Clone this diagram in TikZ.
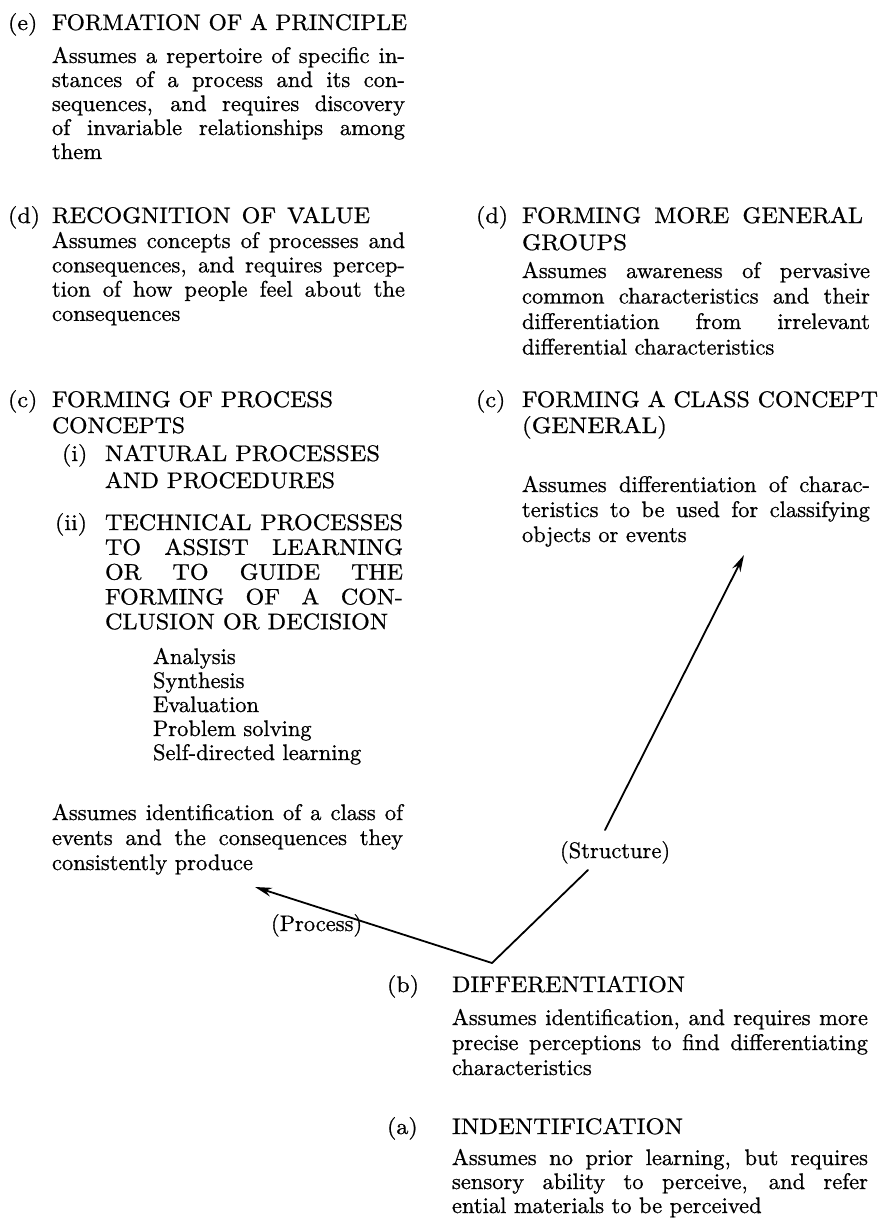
\documentclass[tikz,border=0pt]{standalone}
\usepackage{graphicx}
\usetikzlibrary{arrows.meta}
% body type: Latin Modern 10pt design cut, set large and slightly heavier; capitals a little wider
\font\bodyfont="[lmroman10-regular]:embolden=0.8" at 22.5pt
\font\capfont="[lmroman10-regular]:extend=1.07;embolden=0.8" at 22.5pt
\newcommand\jl[2]{\makebox[#1][s]{#2}}% one justified line of width #1
\newcommand\fw[2]{\resizebox{#1}{\height}{#2}}% one line set to width #1
\newcommand\blocklines[3]{\parbox[t]{#1}{\bodyfont\baselineskip=#2\relax #3}}
\newcommand\capblock[3]{\parbox[t]{#1}{\capfont\baselineskip=#2\relax #3}}
\tikzset{
  txt/.style={anchor=base west, inner sep=0pt, outer sep=0pt, font=\bodyfont},
  captxt/.style={txt, font=\capfont},
  link/.style={line width=1.8pt, line cap=round},
  arrowlink/.style={link, -{Stealth[length=17pt,width=9pt]}},
}
\begin{document}
\begin{tikzpicture}[x=1pt,y=-1pt]
\useasboundingbox (0,0) rectangle (878,1221);

% ---- (e) formation of a principle
\node[captxt] (eL) at (8,30) {(e)};
\node[captxt] (eT) at (52,30) {\fw{355pt}{FORMATION OF A PRINCIPLE}};
\node[txt] (eB) at (52,63) {\blocklines{353pt}{24pt}{%
\jl{\linewidth}{Assumes a repertoire of specific in-}\\
\jl{\linewidth}{stances of a process and its con-}\\
\jl{\linewidth}{sequences, and requires discovery}\\
\jl{\linewidth}{of invariable relationships among}\\
them}};

% ---- (d) recognition of value
\node[captxt] (dL) at (8,223) {(d)};
\node[captxt] (dT) at (52,223) {\jl{318pt}{RECOGNITION OF VALUE}};
\node[txt] (dB) at (52,248) {\blocklines{353pt}{24.3pt}{%
\jl{\linewidth}{Assumes concepts of processes and}\\
\jl{\linewidth}{consequences, and requires percep-}\\
\jl{\linewidth}{tion of how people feel about the}\\
consequences}};

% ---- (c) forming of process concepts
\node[captxt] (cL) at (8,407) {(c)};
\node[captxt] (cT) at (52,407) {\capblock{300pt}{26pt}{\fw{281pt}{FORMING OF PROCESS}\\\fw{133pt}{CONCEPTS}}};
\node[captxt] (ciL) at (62,461) {(i)};
\node[captxt] (ciT) at (105,461) {\capblock{300pt}{27pt}{\fw{275pt}{NATURAL PROCESSES}\\\fw{230pt}{AND PROCEDURES}}};
\node[captxt] (ciiL) at (55,530) {(ii)};
\node[captxt] (ciiT) at (105,530) {\capblock{298pt}{24.8pt}{%
\jl{\linewidth}{TECHNICAL PROCESSES}\\
\jl{\linewidth}{TO ASSIST LEARNING}\\
\jl{\linewidth}{OR TO GUIDE THE}\\
\jl{\linewidth}{FORMING OF A CON-}\\
\fw{283pt}{CLUSION OR DECISION}}};
\node[txt] (list) at (153,664) {\blocklines{250pt}{24pt}{Analysis\\Synthesis\\Evaluation\\Problem solving\\Self-directed learning}};
\node[txt] (cB) at (52,820) {\blocklines{351pt}{25pt}{%
\jl{\linewidth}{Assumes identification of a class of}\\
\jl{\linewidth}{events and the consequences they}\\
consistently produce}};

% ---- (d) forming more general groups
\node[captxt] (gL) at (476,223) {(d)};
\node[captxt] (gT) at (522,223) {\capblock{348pt}{27pt}{\jl{341pt}{FORMING MORE GENERAL}\\\fw{105pt}{GROUPS}}};
\node[txt] (gB) at (522,278) {\blocklines{348pt}{25.5pt}{%
\jl{\linewidth}{Assumes awareness of pervasive}\\
\jl{\linewidth}{common characteristics and their}\\
\jl{\linewidth}{differentiation from irrelevant}\\
differential characteristics}};

% ---- (c) forming a class concept
\node[captxt] (kL) at (476,407) {(c)};
\node[captxt] (kT) at (522,407) {\capblock{356pt}{26pt}{\fw{356pt}{FORMING A CLASS CONCEPT}\\\fw{145pt}{(GENERAL)}}};
\node[txt] (kB) at (522,492) {\blocklines{348pt}{25pt}{%
\jl{\linewidth}{Assumes differentiation of charac-}\\
\jl{\linewidth}{teristics to be used for classifying}\\
objects or events}};

% ---- (b) differentiation
\node[captxt] (bL) at (387,992) {(b)};
\node[captxt] (bT) at (452,992) {\fw{233pt}{DIFFERENTIATION}};
\node[txt] (bB) at (452,1025) {\blocklines{416pt}{25pt}{%
\jl{\linewidth}{Assumes identification, and requires more}\\
\jl{\linewidth}{precise perceptions to find differentiating}\\
characteristics}};

% ---- (a) identification
\node[captxt] (aL) at (387,1134) {(a)};
\node[captxt] (aT) at (452,1134) {\fw{231pt}{INDENTIFICATION}};
\node[txt] (aB) at (452,1165) {\blocklines{416pt}{24pt}{%
\jl{\linewidth}{Assumes no prior learning, but requires}\\
\jl{\linewidth}{sensory ability to perceive, and refer}\\
ential materials to be perceived}};

% ---- the two branches rising from differentiation
\node[txt] (slabel) at (560,858) {(Structure)};
\node[txt] (plabel) at (271,931) {(Process)};
\coordinate (v) at (492,963);
\coordinate (s1) at (588,870);
\coordinate (s2) at (605,830);
\coordinate (stip) at (744,555);
\coordinate (ptip) at (255,887);
\draw[link] (v) -- (s1);
\draw[arrowlink] (s2) -- (stip);
\draw[arrowlink] (v) -- (ptip);
\end{tikzpicture}
\end{document}
